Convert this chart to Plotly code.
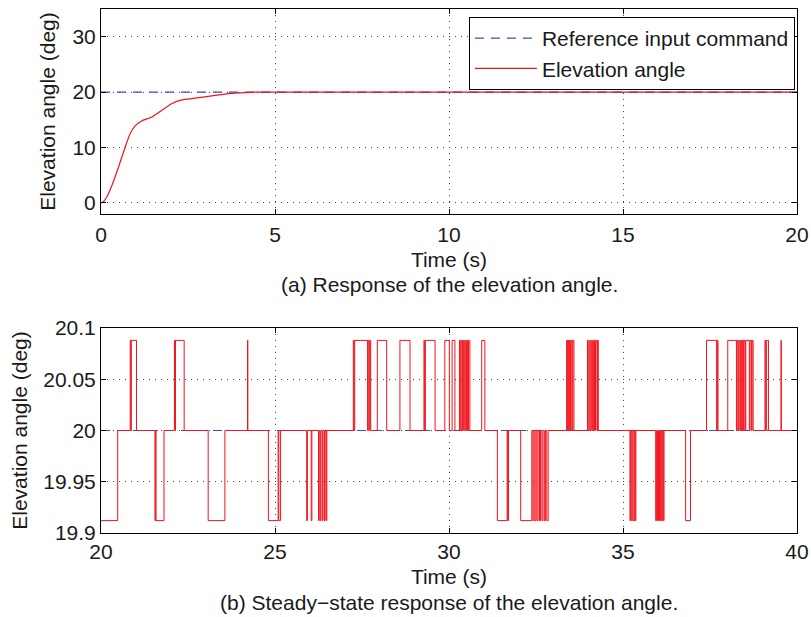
import plotly.graph_objects as go

# ---------------- Data: panel (a) ----------------
t_ref_a = [0, 20]
y_ref_a = [20, 20]

t_resp = [0.0, 0.05, 0.16, 0.31, 0.50, 0.69, 0.83, 0.98, 1.17, 1.46, 1.74, 2.03, 2.32,
          2.70, 3.28, 3.85, 4.43, 5.0, 7.0, 10.0, 13.0, 16.0, 20.0]
y_resp = [0.0, 0.1, 0.97, 3.1, 6.4, 10.0, 12.4, 13.9, 14.8, 15.5, 16.7, 17.9, 18.6,
          18.9, 19.4, 19.8, 20.0, 20.0, 20.0, 20.0, 20.0, 20.0, 20.0]

# ---------------- Data: panel (b) (step signal) ----------------
t_ref_b = [20, 40]
y_ref_b = [20, 20]

HI, MID, LO = 20.0879, 20.0, 19.9121
t_step = [20.00, 20.48, 20.84, 20.86, 20.87, 21.02, 21.55, 21.57, 21.58, 21.81,
          22.11, 22.13, 22.14, 22.39, 23.08, 23.56, 24.21, 24.22, 24.81, 25.09,
          25.11, 25.16, 25.91, 25.93, 26.04, 26.06, 26.25, 26.27, 26.30, 26.32,
          26.36, 26.38, 26.42, 26.44, 26.47, 26.49, 27.25, 27.27, 27.29, 27.66,
          27.68, 27.71, 27.73, 27.75, 27.94, 28.21, 28.59, 28.88, 29.28, 29.30,
          29.32, 29.60, 29.88, 30.01, 30.09, 30.17, 30.30, 30.32, 30.34, 30.37,
          30.39, 30.42, 30.45, 30.48, 30.50, 30.53, 30.56, 30.60, 30.94, 31.03,
          31.39, 31.67, 31.69, 31.71, 32.06, 32.38, 32.41, 32.44, 32.47, 32.50,
          32.53, 32.56, 32.60, 32.63, 32.67, 32.70, 32.74, 32.77, 32.81, 32.85,
          33.38, 33.40, 33.42, 33.44, 33.46, 33.49, 33.51, 33.54, 33.56, 33.59,
          33.98, 34.00, 34.03, 34.06, 34.09, 34.12, 34.15, 34.18, 34.21, 34.25,
          34.27, 34.29, 35.20, 35.22, 35.25, 35.28, 35.31, 35.34, 35.35, 35.37,
          35.94, 35.96, 35.99, 36.02, 36.05, 36.08, 36.11, 36.14, 36.16, 36.18,
          36.80, 36.94, 37.40, 37.69, 37.71, 37.73, 38.01, 38.26, 38.28, 38.31,
          38.33, 38.36, 38.38, 38.41, 38.43, 38.46, 38.48, 38.51, 38.53, 38.63,
          38.65, 38.69, 38.71, 38.74, 39.08, 39.10, 39.12, 39.18, 39.54, 39.55,
          40.00]
y_step = [LO, MID, HI, MID, HI, MID, LO, MID, LO, MID,
          HI, MID, HI, MID, LO, MID, HI, MID, LO, MID,
          LO, MID, LO, MID, LO, MID, LO, MID, LO, MID,
          LO, MID, LO, MID, LO, MID, HI, MID, HI, MID,
          HI, MID, HI, MID, HI, MID, HI, MID, HI, MID,
          HI, MID, HI, MID, HI, MID, HI, MID, HI, MID,
          HI, MID, HI, MID, HI, MID, HI, MID, HI, MID,
          LO, MID, LO, MID, LO, MID, LO, MID, LO, MID,
          LO, MID, LO, MID, LO, MID, LO, MID, LO, MID,
          HI, MID, HI, MID, HI, MID, HI, MID, HI, MID,
          HI, MID, HI, MID, HI, MID, HI, MID, HI, MID,
          HI, MID, LO, MID, LO, MID, LO, MID, LO, MID,
          LO, MID, LO, MID, LO, MID, LO, MID, LO, MID,
          LO, MID, HI, MID, HI, MID, HI, MID, HI, MID,
          HI, MID, HI, MID, HI, MID, HI, MID, HI, MID,
          HI, MID, HI, MID, HI, MID, HI, MID, HI, MID,
          MID]

xticks_a = [0, 5, 10, 15, 20]
yticks_a = [0, 10, 20, 30]
xticks_b = [20, 25, 30, 35, 40]
yticks_b = [19.9, 19.95, 20, 20.05, 20.1]
ytick_text_b = ["19.9", "19.95", "20", "20.05", "20.1"]

FONT = "Liberation Sans, Arial, Helvetica, sans-serif"
FS = 21
BLUE = "#3350c8"
RED = "#f0151e"
TXT = "#1a1a1a"

fig = go.Figure()
fig.add_trace(go.Scatter(x=t_ref_a, y=y_ref_a, mode="lines", name="Reference input command",
                         line=dict(color=BLUE, width=1.2, dash="9px,7px"), xaxis="x", yaxis="y"))
fig.add_trace(go.Scatter(x=t_resp, y=y_resp, mode="lines", name="Elevation angle",
                         line=dict(color=RED, width=1.2, shape="spline", smoothing=0.35),
                         xaxis="x", yaxis="y"))
fig.add_trace(go.Scatter(x=t_ref_b, y=y_ref_b, mode="lines", showlegend=False,
                         line=dict(color=BLUE, width=1.2, dash="9px,7px"), xaxis="x2", yaxis="y2"))
fig.add_trace(go.Scatter(x=t_step, y=y_step, mode="lines", showlegend=False,
                         line=dict(color=RED, width=1, shape="hv"), xaxis="x2", yaxis="y2"))

H = 617
top, bot = 9, 84
plot_h = H - top - bot
dom_a = [(533 - 214) / plot_h, 1.0]
dom_b = [0.0, (533 - 328) / plot_h]

axis_common = dict(showline=True, linecolor="black", linewidth=1, mirror="ticks",
                   ticks="inside", ticklen=5, tickcolor="black", tickwidth=1,
                   showgrid=True, gridcolor="#444444", gridwidth=1, griddash="1px,5px",
                   zeroline=False, automargin=False,
                   tickfont=dict(family=FONT, size=FS, color=TXT),
                   title_font=dict(family=FONT, size=FS, color=TXT))

fig.update_layout(
    template="none",
    width=811, height=617,
    margin=dict(l=101, r=14, t=top, b=bot, autoexpand=False),
    paper_bgcolor="white", plot_bgcolor="white",
    font=dict(family=FONT, size=FS, color=TXT),
    xaxis=dict(domain=[0, 1], anchor="y", range=[0, 20], tickvals=xticks_a,
               ticklabelstandoff=2,
               title=dict(text="Time (s)", standoff=7), **axis_common),
    yaxis=dict(domain=dom_a, anchor="x", range=[-2, 35], tickvals=yticks_a,
               title=dict(text="Elevation angle (deg)", standoff=11), **axis_common),
    xaxis2=dict(domain=[0, 1], anchor="y2", range=[20, 40], tickvals=xticks_b,
                ticklabelstandoff=0,
                title=dict(text="Time (s)", standoff=7), **axis_common),
    yaxis2=dict(domain=dom_b, anchor="x2", range=[19.9, 20.1], tickvals=yticks_b,
                ticktext=ytick_text_b,
                title=dict(text="Elevation angle (deg)", standoff=9), **axis_common),
    legend=dict(x=0.997, xanchor="right", y=1 - 8 / plot_h, yanchor="top",
                bgcolor="white", bordercolor="black", borderwidth=1,
                font=dict(family=FONT, size=FS, color=TXT),
                itemwidth=62, tracegroupgap=0),
    showlegend=True,
    annotations=[
        dict(text="(a) Response of the elevation angle.", xref="paper", yref="paper",
             x=0.5, y=(H - bot - 284) / plot_h, xanchor="center", yanchor="middle",
             showarrow=False, font=dict(family=FONT, size=FS, color=TXT)),
        dict(text="(b) Steady\u2212state response of the elevation angle.", xref="paper", yref="paper",
             x=0.5, y=(H - bot - 602) / plot_h, xanchor="center", yanchor="middle",
             showarrow=False, font=dict(family=FONT, size=FS, color=TXT)),
    ],
)

fig.write_html("out.html", config={"displayModeBar": False},
               post_script="document.body.style.margin='0';document.body.style.padding='0';")
